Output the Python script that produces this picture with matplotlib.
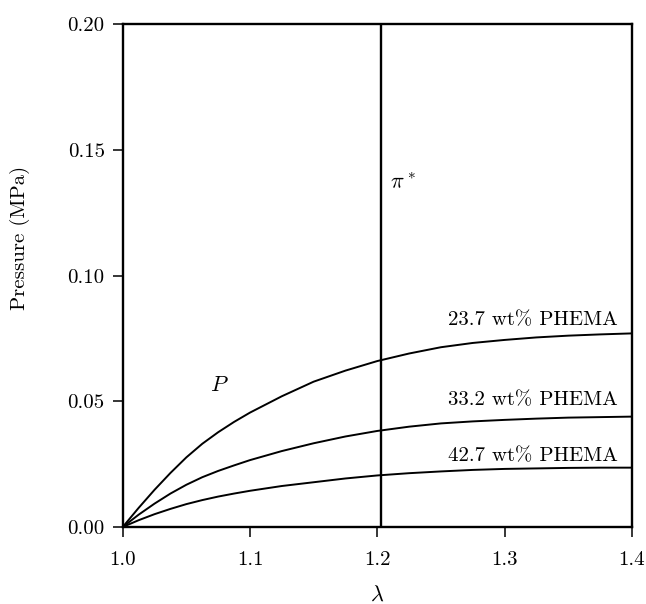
import matplotlib
matplotlib.use("Agg")
import matplotlib.pyplot as plt

# data
lam = [1.0, 1.0125, 1.025, 1.0375, 1.05, 1.0625, 1.075, 1.0875, 1.1, 1.125,
       1.15, 1.175, 1.2, 1.225, 1.25, 1.275, 1.3, 1.325, 1.35, 1.375, 1.4]
p_237 = [0.0, 0.0076, 0.0148, 0.0215, 0.0277, 0.0331, 0.0377, 0.0418, 0.0455,
         0.0520, 0.0578, 0.0622, 0.0660, 0.0690, 0.0715, 0.0732, 0.0744,
         0.0754, 0.0761, 0.0766, 0.0770]
p_332 = [0.0, 0.0049, 0.0093, 0.0133, 0.0168, 0.0198, 0.0223, 0.0245, 0.0266,
         0.0302, 0.0333, 0.0360, 0.0382, 0.0399, 0.0412, 0.0420, 0.0426,
         0.0431, 0.0435, 0.0437, 0.0439]
p_427 = [0.0, 0.0027, 0.0051, 0.0072, 0.0091, 0.0107, 0.0121, 0.0133, 0.0144,
         0.0163, 0.0178, 0.0193, 0.0205, 0.0214, 0.0221, 0.0227, 0.0231,
         0.0233, 0.0235, 0.0236, 0.0236]
series = [p_237, p_332, p_427]
labels = ["23.7 wt% PHEMA", "33.2 wt% PHEMA", "42.7 wt% PHEMA"]
label_y = [0.0823, 0.0505, 0.0282]

pi_star = 1.203  # osmotic pressure line position

xticks = [1.0, 1.1, 1.2, 1.3, 1.4]
xticklabels = ["1.0", "1.1", "1.2", "1.3", "1.4"]
yticks = [0.0, 0.05, 0.10, 0.15, 0.20]
yticklabels = ["0.00", "0.05", "0.10", "0.15", "0.20"]

plt.rcParams["font.family"] = ["cmr10", "DejaVu Serif"]
plt.rcParams["mathtext.fontset"] = "cm"
plt.rcParams["axes.formatter.use_mathtext"] = True

fig = plt.figure(figsize=(6.46, 6.04), dpi=100)
ax = fig.add_axes([0.190, 0.1275, 0.788, 0.8325])

for s in series:
    ax.plot(lam, s, color="black", lw=1.4)
ax.axvline(pi_star, color="black", lw=1.7)

for txt, yy in zip(labels, label_y):
    ax.text(1.389, yy, txt, ha="right", va="center", fontsize=15)

ax.text(1.210, 0.137, r"$\pi^*$", ha="left", va="center", fontsize=16)
ax.text(1.076, 0.0565, r"$P$", ha="center", va="center", fontsize=16)

ax.set_xlim(1.0, 1.4)
ax.set_ylim(0.0, 0.20)
ax.set_xticks(xticks)
ax.set_xticklabels(xticklabels)
ax.set_yticks(yticks)
ax.set_yticklabels(yticklabels)
ax.tick_params(direction="out", length=7, width=1.1, labelsize=15)
ax.tick_params(axis="x", pad=10)
ax.tick_params(axis="y", pad=6)

for sp in ax.spines.values():
    sp.set_linewidth(1.7)

ax.set_xlabel(r"$\lambda$", fontsize=16, labelpad=12)
ax.set_ylabel("Pressure (MPa)", fontsize=15)
ax.yaxis.set_label_coords(-0.183, 0.575)

fig.savefig("out.png", dpi=100)
